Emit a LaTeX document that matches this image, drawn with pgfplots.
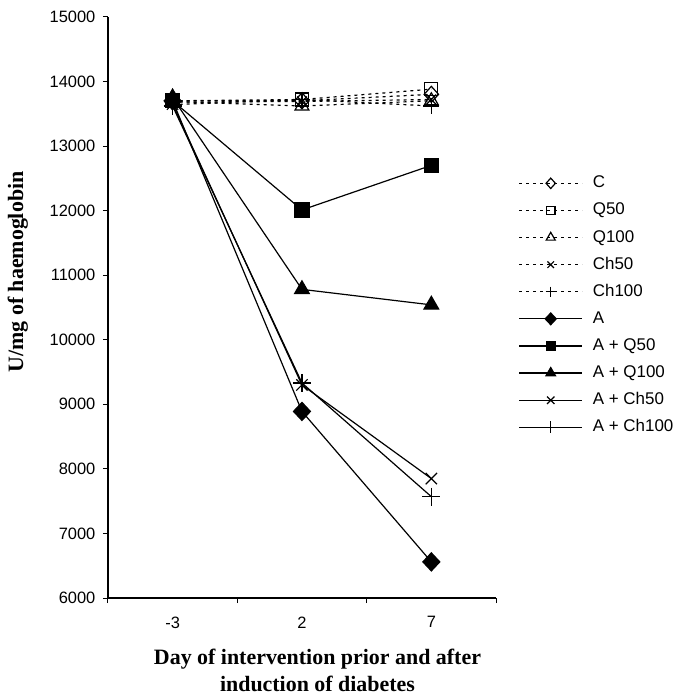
\documentclass[border=0pt]{standalone}
\usepackage{fontspec}
\setmainfont{Liberation Serif}
\setsansfont{Liberation Sans}
\usepackage{pgfplots}
\pgfplotsset{compat=1.18}
\begin{document}
\begin{tikzpicture}
\begin{axis}[
  scale only axis,
  width=388bp, height=581bp,
  xmin=0, xmax=3, ymin=6000, ymax=15000,
  clip=false,
  axis x line=bottom, axis y line=left,
  axis line style={-, line width=1.3bp},
  tick align=outside,
  major tick length=5bp,
  xtick={0.5,1.5,2.5}, xticklabels={-3,2,7},
  major x tick style={draw=none},
  minor xtick={0,1,2,3},
  minor tick length=5bp,
  minor x tick style={line width=1bp, black},
  major y tick style={line width=1bp, black},
  ytick={6000,7000,...,15000},
  scaled y ticks=false,
  yticklabel style={/pgf/number format/1000 sep={}, xshift=-4bp},
  /pgf/number format/assume math mode=true,
  ticklabel style={font=\sffamily\fontsize{16.5}{18}\selectfont},
  xticklabel style={yshift=-10bp},
  xlabel={Day of intervention prior and after\\induction of diabetes},
  xlabel style={font=\bfseries\fontsize{22}{28}\selectfont, align=center,
    at={(rel axis cs:0.54,0)}, anchor=north, yshift=-47bp},
  ylabel={U/mg of haemoglobin},
  ylabel style={font=\bfseries\fontsize{22}{24}\selectfont,
    at={(rel axis cs:-0.232,0.561)}, anchor=center},
  legend style={draw=none, at={(rel axis cs:1.05,0.732)}, anchor=north west,
    font=\sffamily\fontsize{17}{19}\selectfont, fill=none,
    nodes={inner sep=1bp, text height=12bp, text depth=3bp},
    row sep=10.1bp, column sep=9bp},
  legend cell align=left,
  legend image code/.code={
    \draw[mark repeat=2,mark phase=2,every mark/.append style={scale=0.65}]
    plot coordinates {(0bp,0bp)(31.5bp,0bp)(63bp,0bp)};
  },
  every axis plot/.append style={black, line width=1.2bp},
]
% controls (dotted)
\addplot[dash pattern=on 3bp off 4bp, mark=diamond, mark size=8bp, mark options={solid, fill=white, xscale=1.2}] coordinates {(0.5,13700) (1.5,13700) (2.5,13800)};
\addlegendentry{C}
\addplot[dash pattern=on 3bp off 4bp, mark=square, mark size=6.5bp, mark options={solid, fill=white}] coordinates {(0.5,13700) (1.5,13720) (2.5,13880)};
\addlegendentry{Q50}
\addplot[dash pattern=on 3bp off 4bp, mark=triangle, mark size=8bp, mark options={solid, fill=white}] coordinates {(0.5,13690) (1.5,13620) (2.5,13700)};
\addlegendentry{Q100}
\addplot[dash pattern=on 3bp off 4bp, mark=x, mark size=7bp, mark options={solid}] coordinates {(0.5,13680) (1.5,13690) (2.5,13720)};
\addlegendentry{Ch50}
\addplot[dash pattern=on 3bp off 4bp, mark=+, mark size=8bp, mark options={solid}] coordinates {(0.5,13640) (1.5,13720) (2.5,13620)};
\addlegendentry{Ch100}
% diabetic groups (solid)
\addplot[mark=diamond*, mark size=9bp, mark options={xscale=1.25}] coordinates {(0.5,13700) (1.5,8890) (2.5,6560)};
\addlegendentry{A}
\addplot[mark=square*, mark size=7bp] coordinates {(0.5,13700) (1.5,12010) (2.5,12700)};
\addlegendentry{A + Q50}
\addplot[mark=triangle*, mark size=8.5bp] coordinates {(0.5,13750) (1.5,10780) (2.5,10540)};
\addlegendentry{A + Q100}
\addplot[mark=x, mark size=8bp] coordinates {(0.5,13650) (1.5,9300) (2.5,7850)};
\addlegendentry{A + Ch50}
\addplot[mark=+, mark size=9bp] coordinates {(0.5,13620) (1.5,9330) (2.5,7570)};
\addlegendentry{A + Ch100}
% fix the page to the reference's frame
\path (rel axis cs:-0.278,-0.172) rectangle (rel axis cs:1.485,1.029);
\end{axis}
\end{tikzpicture}
\end{document}
